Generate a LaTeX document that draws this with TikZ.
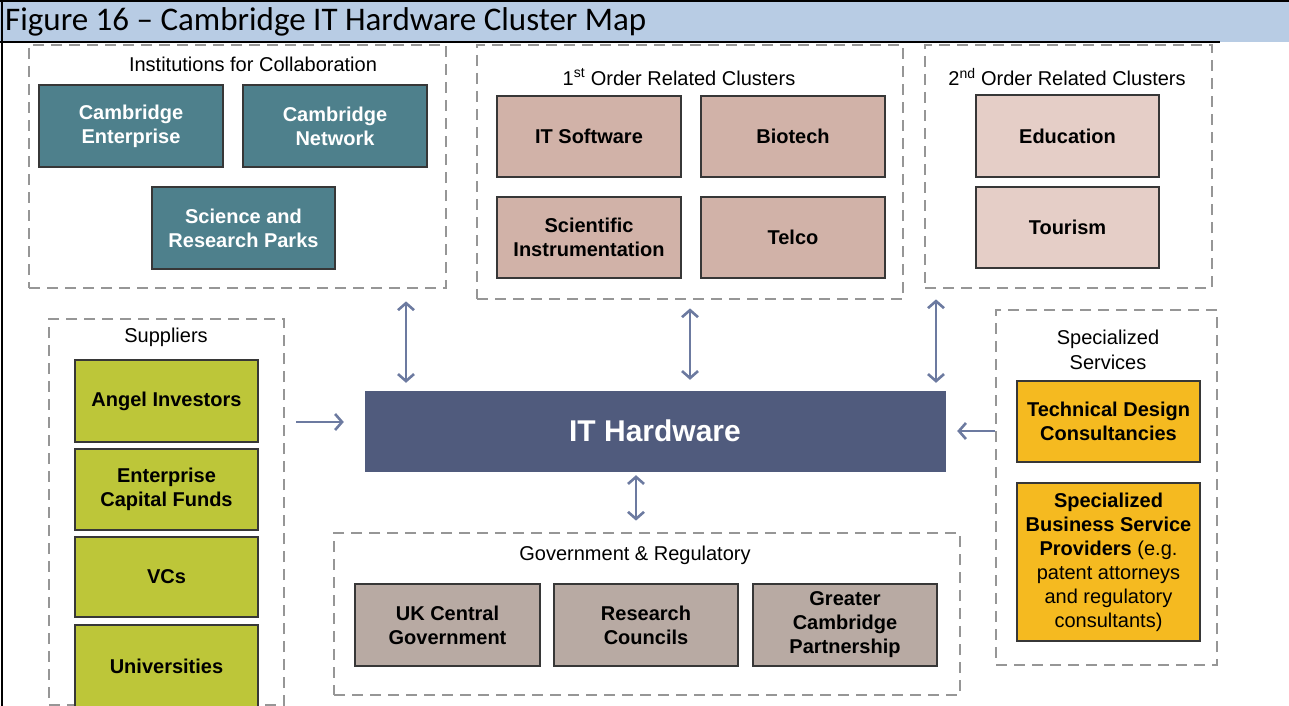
\documentclass[tikz,border=0pt]{standalone}
\usepackage{fontspec}
\setmainfont{Liberation Sans}
\newfontfamily\calib{Carlito}
\usetikzlibrary{arrows.meta}
\definecolor{titleblue}{RGB}{184,204,228}
\definecolor{tealc}{RGB}{78,128,140}
\definecolor{firstc}{RGB}{209,178,168}
\definecolor{secondc}{RGB}{229,206,199}
\definecolor{olivec}{RGB}{189,198,57}
\definecolor{goldc}{RGB}{245,186,32}
\definecolor{govc}{RGB}{184,170,163}
\definecolor{hwc}{RGB}{80,91,125}
\definecolor{arrowc}{RGB}{108,122,160}
\definecolor{dashgray}{RGB}{150,150,150}
\definecolor{boxline}{RGB}{55,55,55}
\begin{document}
\begin{tikzpicture}[x=1pt,y=-1pt,
  grp/.style={draw=dashgray, line width=2.8pt, dash pattern=on 11pt off 7pt, inner sep=0pt},
  box/.style={draw=boxline, line width=1.3pt, align=center, inner sep=0pt,
    text=black, font=\fontsize{20}{24}\selectfont\bfseries},
  grptitle/.style={inner sep=0pt, align=center, text=black, font=\fontsize{20}{25}\selectfont},
  bi/.style={draw=arrowc, line width=2.6pt,
    {Straight Barb[length=7pt,width=16pt]}-{Straight Barb[length=7pt,width=16pt]}},
  uni/.style={draw=arrowc, line width=2.6pt, -{Straight Barb[length=7pt,width=16pt]}}
]
\useasboundingbox (0,0) rectangle (1289,706);
% title bar
\fill[titleblue] (0,1) rectangle (1289,42);
\draw[black, line width=2.2pt] (0,1) -- (1289,1);
\draw[black, line width=2.2pt] (0,42) -- (1220,42);
\draw[black, line width=2.2pt] (2,0) -- (2,706);
\node[anchor=west, inner sep=0pt, font=\calib\fontsize{33}{37}\selectfont] (title) at (5,22)
  {Figure 16 \textendash\ Cambridge IT Hardware Cluster Map};

% group boxes
\node[grp, minimum width=417, minimum height=243] (inst) at (237.5,166.5) {};
\node[grp, minimum width=426, minimum height=254] (first) at (690,172) {};
\node[grp, minimum width=287, minimum height=243] (second) at (1068.5,166.5) {};
\node[grp, minimum width=235, minimum height=386] (supp) at (166.5,512) {};
\node[grp, minimum width=221, minimum height=355] (spec) at (1106.5,487.5) {};
\node[grp, minimum width=626, minimum height=162] (gov) at (647,614) {};

% group titles
\node[grptitle] (instt) at (253,64) {Institutions for Collaboration};
\node[grptitle] (firstt) at (679,77) {1\textsuperscript{st} Order Related Clusters};
\node[grptitle] (secondt) at (1067,77) {2\textsuperscript{nd} Order Related Clusters};
\node[grptitle] (suppt) at (166,337) {Suppliers};
\node[grptitle] (spect) at (1108,350) {Specialized\\Services};
\node[grptitle] (govt) at (635,555) {Government \& Regulatory};

% institutions
\node[box, fill=tealc, text=white, minimum width=184, minimum height=82] (ce) at (131,126) {Cambridge\\Enterprise};
\node[box, fill=tealc, text=white, minimum width=184, minimum height=82] (cn) at (335,126) {Cambridge\\Network};
\node[box, fill=tealc, text=white, minimum width=183, minimum height=82] (srp) at (243.5,228) {Science and\\Research Parks};

% first order
\node[box, fill=firstc, minimum width=184, minimum height=81] (its) at (589,136.5) {IT Software};
\node[box, fill=firstc, minimum width=184, minimum height=81] (bio) at (793,136.5) {Biotech};
\node[box, fill=firstc, minimum width=184, minimum height=81] (sci) at (589,237.5) {Scientific\\Instrumentation};
\node[box, fill=firstc, minimum width=184, minimum height=81] (tel) at (793,237.5) {Telco};

% second order
\node[box, fill=secondc, minimum width=183, minimum height=82] (edu) at (1067.5,136) {Education};
\node[box, fill=secondc, minimum width=183, minimum height=81] (tour) at (1067.5,227.5) {Tourism};

% suppliers
\node[box, fill=olivec, minimum width=183, minimum height=82] (angel) at (166.5,401) {Angel Investors};
\node[box, fill=olivec, minimum width=183, minimum height=81] (ecf) at (166.5,489.5) {Enterprise\\Capital Funds};
\node[box, fill=olivec, minimum width=183, minimum height=80] (vcs) at (166.5,577) {VCs};
\node[box, fill=olivec, minimum width=183, minimum height=82] (univ) at (166.5,666) {Universities};

% IT hardware
\node[fill=hwc, draw=hwc, minimum width=580, minimum height=80, inner sep=0pt, text=white,
  font=\fontsize{30}{34}\selectfont\bfseries] (hw) at (655,431) {IT Hardware};

% specialized services
\node[box, fill=goldc, minimum width=183, minimum height=81] (tdc) at (1108.5,421.5) {Technical Design\\Consultancies};
\node[box, fill=goldc, minimum width=183, minimum height=158] (sbsp) at (1108.5,562)
  {Specialized\\Business Service\\Providers \mdseries(e.g.\\\mdseries patent attorneys\\\mdseries and regulatory\\\mdseries consultants)};

% government
\node[box, fill=govc, minimum width=185, minimum height=82] (ukc) at (447.5,625) {UK Central\\Government};
\node[box, fill=govc, minimum width=184, minimum height=82] (rc) at (646,625) {Research\\Councils};
\node[box, fill=govc, minimum width=184, minimum height=82] (gcp) at (845,625) {Greater\\Cambridge\\Partnership};

% connectors
\coordinate (a1) at (406,0);
\coordinate (a2) at (690,0);
\coordinate (a3) at (936,0);
\coordinate (a4) at (636,0);
\coordinate (a5) at (0,422);
\coordinate (a6) at (0,431);
\draw[bi, shorten <=12pt, shorten >=8pt] (inst.south -| a1) -- (hw.north -| a1);
\draw[bi, shorten <=8pt, shorten >=11pt] (first.south -| a2) -- (hw.north -| a2);
\draw[bi, shorten <=10pt, shorten >=8pt] (second.south -| a3) -- (hw.north -| a3);
\draw[bi, shorten <=4pt, shorten >=11pt] (hw.south -| a4) -- (gov.north -| a4);
\draw[uni, shorten <=11pt, shorten >=21pt] (supp.east |- a5) -- (hw.west |- a5);
\draw[uni, shorten <=0pt, shorten >=12pt] (spec.west |- a6) -- (hw.east |- a6);
\end{tikzpicture}
\end{document}
